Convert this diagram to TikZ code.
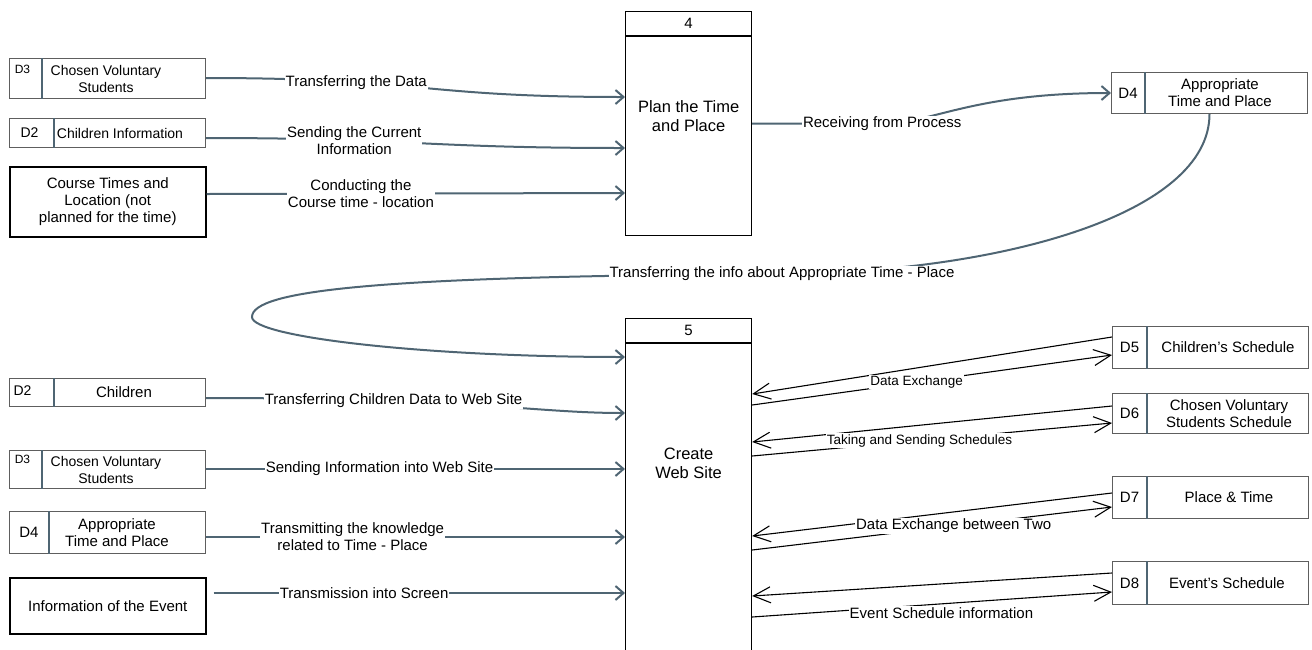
\documentclass[tikz,border=0pt]{standalone}
\usepackage{fontspec}
\setmainfont{Liberation Sans}
\usetikzlibrary{arrows.meta,calc}
\definecolor{dfslate}{HTML}{4F6573}
\definecolor{dfgrey}{HTML}{5E5E5E}
\newcommand{\fs}[1]{\fontsize{#1}{17}\selectfont}
% data store: [id opts]{name}{left}{top}{height}{divider}{id}{text x}{text}
\newcommand{\dstore}[9][]{%
  \node[storebox,minimum height=#5pt] (#2) at (#3,#4) {};
  \draw[divider] ([xshift=#6pt]#2.north west) -- ([xshift=#6pt]#2.south west);
  \node[sid,#1] (#2-id) at ([xshift=#6pt/2]#2.west) {#7};
  \node[stext] (#2-txt) at ([xshift=#8pt]#2.west) {#9};
}
\tikzset{
  storebox/.style={draw=dfgrey,line width=1pt,minimum width=196pt,inner sep=0pt,anchor=north west},
  divider/.style={draw=dfslate,line width=2pt},
  sid/.style={font=\fs{15},inner sep=0pt},
  stext/.style={font=\fs{15},align=center,inner sep=0pt},
  extbox/.style={draw=black,line width=1.5pt,minimum width=196pt,inner sep=0pt,anchor=north west,
                 align=center,font=\fs{15}},
  proc/.style={draw=black,line width=1.2pt,minimum width=126pt,inner sep=0pt,anchor=north west},
  procline/.style={draw=black,line width=1.2pt},
  pnum/.style={font=\fs{15},inner sep=0pt},
  ptext/.style={font=\fontsize{16.5}{19}\selectfont,align=center,inner sep=0pt},
  flow/.style={-{Straight Barb[length=8pt,width=14pt,line width=2pt]},line width=2pt,dfslate},
  xchg/.style={-{Straight Barb[length=17pt,width=16pt,line width=1.1pt]},line width=1.1pt,black},
  lab/.style={fill=white,inner sep=1pt,align=center,font=\fs{15},text=black},
}
\begin{document}
\begin{tikzpicture}[x=1pt,y=-1pt]
\useasboundingbox (0,0) rectangle (1312,649);

% processes
\node[proc,minimum height=224pt] (pfour) at (625,11) {};
\draw[procline] ([yshift=-25pt]pfour.north west) -- ([yshift=-25pt]pfour.north east);
\node[pnum] (pfour-n) at ([yshift=-12.5pt]pfour.north) {4};
\node[ptext] (pfour-t) at ([yshift=-105.5pt]pfour.north) {Plan the Time\\and Place};

\node[proc,minimum height=340pt] (pfive) at (625,318) {};
\draw[procline] ([yshift=-25pt]pfive.north west) -- ([yshift=-25pt]pfive.north east);
\node[pnum] (pfive-n) at ([yshift=-12.5pt]pfive.north) {5};
\node[ptext] (pfive-t) at ([yshift=-145pt]pfive.north) {Create\\Web Site};

% stores and sources, top left
\dstore[xshift=-3pt,yshift=9.5pt,font=\fs{12}]{dthreea}{9}{58}{40}{33}{D3}{97}{\fs{14}Chosen Voluntary\\\fs{14}Students}
\dstore[xshift=-2pt,font=\fs{14}]{dtwoa}{9}{118}{29}{45}{D2}{111}{\fs{14}Children Information}
\node[extbox,minimum height=70pt] (course) at (9,166) {Course Times and\\Location (not\\planned for the time)};

% store top right
\dstore{dfour}{1111}{72}{41}{34}{D4}{109}{Appropriate\\Time and Place}

% stores and source, bottom left
\dstore[xshift=-9pt,yshift=2pt,font=\fs{14}]{dtwob}{9}{378}{28}{45}{D2}{115}{Children}
\dstore[xshift=-3pt,yshift=10pt,font=\fs{12}]{dthreeb}{9}{450}{38}{33}{D3}{97}{\fs{14}Chosen Voluntary\\\fs{14}Students}
\dstore{dfourb}{9}{511}{42}{40}{D4}{108}{Appropriate\\Time and Place}
\node[extbox,minimum height=56pt] (event) at (9,577) {Information of the Event};

% stores right
\dstore{dfive}{1112}{326}{42}{35}{D5}{116}{Children's Schedule}
\dstore{dsix}{1112}{393}{40}{35}{D6}{117}{Chosen Voluntary\\Students Schedule}
\dstore{dseven}{1112}{476}{42}{35}{D7}{117}{Place \& Time}
\dstore{deight}{1112}{561}{43}{35}{D8}{115}{Event's Schedule}

% flows into process 4
\draw[flow] ([yshift=-20pt]dthreea.north east) .. controls +(215,0) and +(-205,0) .. ([yshift=-86pt]pfour.north west)
  node[lab,pos=0.31] (l1) {Transferring the Data};
\draw[flow] ([yshift=-20pt]dtwoa.north east) .. controls +(200,0) and +(-200,0) .. ([yshift=-137pt]pfour.north west)
  node[lab,pos=0.32] (l2) {Sending the Current\\Information};
\draw[flow] ([yshift=-28pt]course.north east) -- ([yshift=-182pt]pfour.north west)
  node[lab,pos=0.369] (l3) {Conducting the\\Course time - location};

% process 4 to D4, D4 to process 5
\draw[flow] (pfour.east) -- ++(130,0) node[lab] (l4) {Receiving from Process}
  .. controls +(50,0) and +(-140,0) .. (dfour.west);
\draw[flow] (dfour.south) .. controls +(0,100) and +(220,-2) .. (782,274)
  node[lab] (l5) {Transferring the info about Appropriate Time - Place}
  .. controls +(-400,2) and +(0,-27) .. (252,317)
  .. controls +(0,20) and +(-200,0) .. ([yshift=-39pt]pfive.north west);

% flows into process 5
\draw[flow] ([yshift=-20pt]dtwob.north east) .. controls +(270,0) and +(-90,0) .. ([yshift=-95pt]pfive.north west)
  node[lab,pos=0.29] (l6) {Transferring Children Data to Web Site};
\draw[flow] ([yshift=-19pt]dthreeb.north east) -- ([yshift=-151pt]pfive.north west)
  node[lab,pos=0.414] (l7) {Sending Information into Web Site};
\draw[flow] ([yshift=-26pt]dfourb.north east) -- ([yshift=-219pt]pfive.north west)
  node[lab,pos=0.35] (l8) {Transmitting the knowledge\\related to Time - Place};
\draw[flow] ([shift={(7pt,-16pt)}]event.north east) -- ([yshift=-275pt]pfive.north west)
  node[lab,pos=0.366] (l9) {Transmission into Screen};

% exchanges with the right stores
\draw[xchg] ([yshift=-11pt]dfive.north west) -- ([yshift=-76pt]pfive.north east);
\draw[xchg] ([yshift=-87pt]pfive.north east) -- ([yshift=-29pt]dfive.north west)
  node[lab,pos=0.457,font=\fs{13.5}] (l10) {Data Exchange};
\draw[xchg] ([yshift=-13pt]dsix.north west) -- ([yshift=-124pt]pfive.north east);
\draw[xchg] ([yshift=-138pt]pfive.north east) -- ([yshift=-30pt]dsix.north west)
  node[lab,pos=0.465,font=\fs{13.5}] (l11) {Taking and Sending Schedules};
\draw[xchg] ([yshift=-17pt]dseven.north west) -- ([yshift=-218pt]pfive.north east);
\draw[xchg] ([yshift=-232pt]pfive.north east) -- ([yshift=-31pt]dseven.north west)
  node[lab,pos=0.56] (l12) {Data Exchange between Two};
\draw[xchg] ([yshift=-12pt]deight.north west) -- ([yshift=-278pt]pfive.north east);
\draw[xchg] ([yshift=-299pt]pfive.north east) -- ([yshift=-31pt]deight.north west)
  node[lab,pos=0.526,yshift=-9pt] (l13) {Event Schedule information};
\end{tikzpicture}
\end{document}
